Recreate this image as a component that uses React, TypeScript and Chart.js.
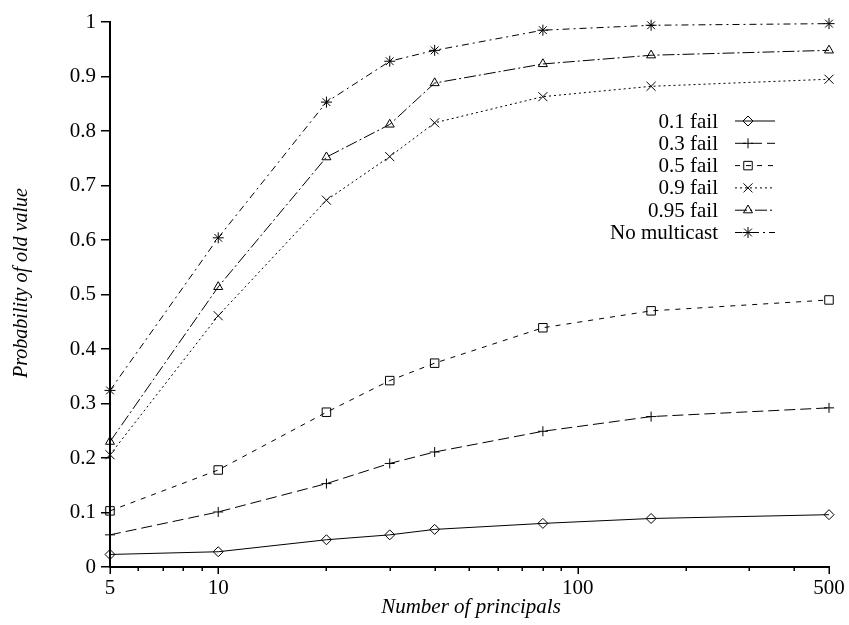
import React, { useEffect, useRef } from 'react';
import { Chart, registerables } from 'chart.js';
import { drawPoint } from 'chart.js/helpers';

Chart.register(...registerables);

// Number of principals (log axis) and probability of reading an old value
const principals = [5, 10, 20, 30, 40, 80, 160, 500];
const fail01 = [0.023, 0.028, 0.05, 0.059, 0.069, 0.08, 0.089, 0.096];
const fail03 = [0.059, 0.101, 0.153, 0.19, 0.211, 0.249, 0.276, 0.292];
const fail05 = [0.103, 0.178, 0.284, 0.342, 0.374, 0.439, 0.47, 0.49];
const fail09 = [0.206, 0.461, 0.673, 0.753, 0.815, 0.863, 0.882, 0.895];
const fail095 = [0.23, 0.514, 0.752, 0.812, 0.888, 0.923, 0.939, 0.948];
const noMulticast = [0.324, 0.604, 0.853, 0.928, 0.948, 0.985, 0.994, 0.997];

const seriesLabels = ['0.1 fail', '0.3 fail', '0.5 fail', '0.9 fail', '0.95 fail', 'No multicast'];
const seriesValues = [fail01, fail03, fail05, fail09, fail095, noMulticast];

const xLabelledTicks = [5, 10, 100, 500];
const xMinorTicks = [6, 7, 8, 9, 20, 30, 40, 50, 60, 70, 80, 90, 200, 300, 400];
const xTitle = 'Number of principals';
const yTitle = 'Probability of old value';

const SERIF = '"Liberation Serif", "Times New Roman", serif';

// gnuplot-like line types and point types
const seriesStyles = [
  { pointStyle: 'rectRot', radius: 5, dash: [] as number[] },
  { pointStyle: 'cross', radius: 5, dash: [11, 5] },
  { pointStyle: 'rect', radius: 6, dash: [5, 6] },
  { pointStyle: 'crossRot', radius: 6.4, dash: [2, 3] },
  { pointStyle: 'triangle', radius: 5.2, dash: [12, 3, 2, 3] },
  { pointStyle: 'star', radius: 5.5, dash: [7, 4, 2, 4] },
];

// Key drawn inside the plot, text right-aligned before each sample line
const keyPlugin = {
  id: 'gnuplotKey',
  afterDatasetsDraw(chart: any) {
    const ctx = chart.ctx as CanvasRenderingContext2D;
    ctx.save();
    ctx.font = `21px ${SERIF}`;
    ctx.fillStyle = '#000';
    ctx.textAlign = 'right';
    ctx.textBaseline = 'middle';
    chart.data.datasets.forEach((ds: any, i: number) => {
      const st = seriesStyles[i];
      const y = 121 + i * 22.3;
      ctx.fillText(ds.label, 718, y + 1);
      ctx.strokeStyle = '#000';
      ctx.lineWidth = 1;
      ctx.setLineDash(st.dash);
      ctx.beginPath();
      ctx.moveTo(735, y);
      ctx.lineTo(775, y);
      ctx.stroke();
      ctx.setLineDash([]);
      ctx.fillStyle = 'rgba(0,0,0,0)';
      drawPoint(ctx, { pointStyle: st.pointStyle, radius: st.radius, rotation: 0, borderWidth: 1 } as any, 748, y);
      ctx.fillStyle = '#000';
    });
    ctx.restore();
  },
};

// x tick marks (long for labelled decades, short for the rest) and axis titles
const axisDecorPlugin = {
  id: 'axisDecor',
  afterDraw(chart: any) {
    const ctx = chart.ctx as CanvasRenderingContext2D;
    const xs = chart.scales.x;
    const area = chart.chartArea;
    ctx.save();
    ctx.strokeStyle = '#000';
    ctx.lineWidth = 1.5;
    const all = [...xLabelledTicks, ...xMinorTicks];
    all.forEach((v) => {
      const px = Math.round(xs.getPixelForValue(v)) + 0.25;
      const len = xLabelledTicks.includes(v) ? 7 : 4;
      ctx.beginPath();
      ctx.moveTo(px, area.bottom);
      ctx.lineTo(px, area.bottom + len);
      ctx.stroke();
    });
    ctx.fillStyle = '#000';
    ctx.textAlign = 'center';
    ctx.textBaseline = 'middle';
    ctx.font = `italic 21px ${SERIF}`;
    ctx.fillText(xTitle, 471, 607);
    ctx.translate(22, 283);
    ctx.rotate(-Math.PI / 2);
    ctx.font = `italic 20px ${SERIF}`;
    ctx.fillText(yTitle, 0, 0);
    ctx.restore();
  },
};

export default function App() {
  const ref = useRef<HTMLCanvasElement>(null);

  useEffect(() => {
    document.body.style.margin = '0';
    const canvas = ref.current;
    if (!canvas) return;

    const datasets = seriesLabels.map((label, i) => {
      const st = seriesStyles[i];
      return {
        label,
        data: principals.map((x, j) => ({ x, y: seriesValues[i][j] })),
        borderColor: '#000',
        borderWidth: 1,
        borderDash: st.dash,
        fill: false,
        tension: 0,
        pointStyle: st.pointStyle,
        pointRadius: st.radius,
        pointBorderColor: '#000',
        pointBackgroundColor: 'rgba(0,0,0,0)',
        pointBorderWidth: 1,
        clip: false as any,
      };
    });

    const chart = new Chart(canvas, {
      type: 'line',
      data: { datasets: datasets as any },
      options: {
        animation: false,
        responsive: false,
        events: [],
        layout: { padding: { top: 22, right: 20, left: 0, bottom: 0 } },
        plugins: {
          legend: { display: false },
          tooltip: { enabled: false },
        },
        scales: {
          x: {
            type: 'logarithmic',
            min: 5,
            max: 500,
            afterBuildTicks: (scale: any) => {
              scale.ticks = [...xLabelledTicks, ...xMinorTicks]
                .sort((a, b) => a - b)
                .map((v) => ({ value: v, major: xLabelledTicks.includes(v) }));
            },
            afterFit: (scale: any) => {
              scale.height = 58;
              scale.paddingLeft = 0;
              scale.paddingRight = 0;
            },
            ticks: {
              autoSkip: false,
              maxRotation: 0,
              padding: 9,
              color: '#000',
              font: { family: SERIF, size: 21 },
              callback: (value: any) => (xLabelledTicks.includes(Number(value)) ? String(value) : ''),
            },
            grid: { display: false, drawTicks: false },
            border: { display: true, color: '#000', width: 2 },
          },
          y: {
            type: 'linear',
            min: 0,
            max: 1,
            afterFit: (scale: any) => {
              scale.width = 110;
            },
            ticks: {
              stepSize: 0.1,
              padding: 5,
              color: '#000',
              font: { family: SERIF, size: 21 },
              callback: (value: any) => String(Number(Number(value).toFixed(1))),
            },
            grid: {
              display: true,
              drawOnChartArea: false,
              drawTicks: true,
              tickLength: 9,
              color: '#000',
              lineWidth: 1.5,
            },
            border: { display: true, color: '#000', width: 2 },
          },
        },
      },
      plugins: [keyPlugin, axisDecorPlugin],
    });

    return () => chart.destroy();
  }, []);

  return <canvas ref={ref} width={849} height={625} style={{ display: 'block', width: 849, height: 625 }} />;
}
